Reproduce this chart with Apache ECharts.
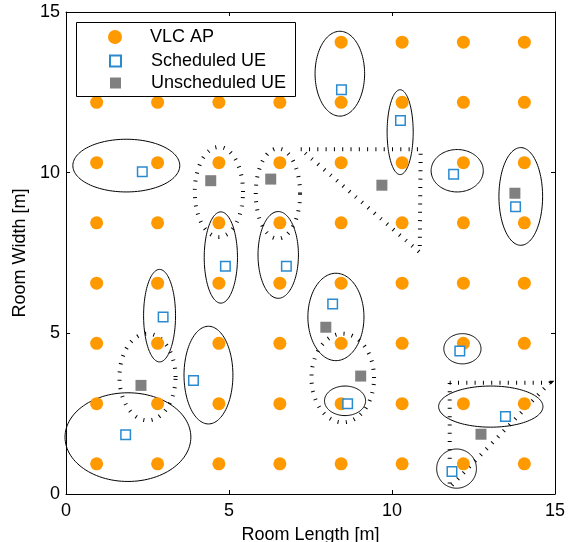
<!DOCTYPE html>
<html><head><meta charset="utf-8">
<script src="https://cdn.jsdelivr.net/npm/echarts@6/dist/echarts.min.js"></script>
<style>html,body{margin:0;padding:0;background:#fff}#c{width:569px;height:542px}</style>
</head><body><div id="c"></div>
<script>
// VLC access point grid positions (m)
const apX = [0.94, 2.81, 4.69, 6.56, 8.44, 10.31, 12.19, 14.06];
const apY = [0.94, 2.81, 4.69, 6.56, 8.44, 10.31, 12.19, 14.06];
// Scheduled UEs
const schedX = [8.45, 10.26, 2.34, 11.89, 13.79, 4.89, 6.76, 2.98, 8.18, 3.91, 12.08, 8.64, 13.48, 1.83, 11.84];
const schedY = [12.58, 11.62, 10.03, 9.95, 8.94, 7.09, 7.09, 5.51, 5.91, 3.53, 4.45, 2.81, 2.41, 1.84, 0.70];
// Unscheduled UEs
const unX = [4.44, 6.28, 9.69, 13.77, 7.97, 9.04, 2.30, 12.73];
const unY = [9.75, 9.80, 9.61, 9.36, 5.19, 3.67, 3.38, 1.86];
// Solid clusters: [cx, cy, rx, ry]
const solidEllipses = [
  [8.40, 13.08, 0.76, 1.32],
  [10.25, 11.26, 0.40, 1.32],
  [1.85, 10.22, 1.64, 0.82],
  [12.00, 10.06, 0.80, 0.66],
  [13.95, 9.26, 0.67, 1.52],
  [4.75, 7.36, 0.51, 1.42],
  [6.51, 7.44, 0.62, 1.35],
  [2.87, 5.55, 0.49, 1.44],
  [4.37, 3.70, 0.75, 1.52],
  [8.28, 5.51, 0.86, 1.36],
  [12.16, 4.52, 0.57, 0.47],
  [8.56, 2.90, 0.63, 0.46],
  [13.03, 2.72, 1.60, 0.64],
  [11.98, 0.79, 0.61, 0.61],
  [1.90, 1.77, 1.93, 1.38]
];
// Dotted clusters: [cx, cy, rx, ry]
const dottedEllipses = [
  [4.69, 9.40, 0.74, 1.40],
  [6.50, 9.35, 0.68, 1.40],
  [2.50, 3.64, 0.86, 1.35],
  [8.49, 3.61, 0.96, 1.38]
];
// Dotted triangles: [x1, y1, x2, y2, x3, y3]
const dottedTriangles = [
  [7.20, 10.73, 10.88, 10.73, 10.85, 7.52],
  [11.77, 3.46, 14.84, 3.46, 11.77, 0.20]
];
const xTicks = [0, 5, 10, 15];
const yTicks = [0, 5, 10, 15];

const FONT = "'Liberation Sans', Arial, sans-serif";
const apData = [];
apX.forEach(x => apY.forEach(y => apData.push([x, y])));
const schedData = schedX.map((x, i) => [x, schedY[i]]);
const unData = unX.map((x, i) => [x, unY[i]]);

const dotStyle = {fill: 'none', stroke: '#000', lineWidth: 4, lineDash: [1, 7.3], lineCap: 'butt'};
const solidStyle = {fill: 'none', stroke: '#000', lineWidth: 1};

function ellipseRender(style) {
  return function (params, api) {
    const cx = api.value(0), cy = api.value(1), rx = api.value(2), ry = api.value(3);
    const pts = [];
    const N = 120;
    for (let k = 0; k <= N; k++) {
      const t = k / N * 2 * Math.PI;
      pts.push(api.coord([cx + rx * Math.cos(t), cy + ry * Math.sin(t)]));
    }
    return {type: 'polygon', shape: {points: pts}, style: Object.assign({}, style)};
  };
}
function triangleRender(params, api) {
  const pts = [];
  for (let k = 0; k < 3; k++) pts.push(api.coord([api.value(2 * k), api.value(2 * k + 1)]));
  return {type: 'polygon', shape: {points: pts}, style: Object.assign({}, dotStyle)};
}

const min = xTicks[0], max = xTicks[xTicks.length - 1], step = xTicks[1] - xTicks[0];
const axisCommon = {
  type: 'value', min: min, max: max, interval: step,
  axisLine: {show: true, onZero: false, lineStyle: {color: '#000', width: 1}},
  axisTick: {show: true, inside: true, length: 4, lineStyle: {color: '#000', width: 1}},
  splitLine: {show: false}
};
const labelStyle = {color: '#000', fontSize: 18, fontFamily: FONT};
const legendText = {color: '#000', fontSize: 18, lineHeight: 18, fontFamily: FONT};

const chart = echarts.init(document.getElementById('c'), null, {renderer: 'canvas'});
chart.setOption({
  animation: false,
  backgroundColor: '#fff',
  grid: {left: 66, right: 14, top: 12, bottom: 48, containLabel: false, outerBoundsMode: 'none'},
  xAxis: [
    Object.assign({}, axisCommon, {position: 'bottom',
      axisLabel: Object.assign({margin: 8}, labelStyle),
      name: 'Room Length [m]', nameLocation: 'middle', nameGap: 32,
      nameTextStyle: {color: '#000', fontSize: 18, fontFamily: FONT}}),
    Object.assign({}, axisCommon, {position: 'top', axisLabel: {show: false}})
  ],
  yAxis: [
    Object.assign({}, axisCommon, {position: 'left',
      axisLabel: Object.assign({margin: 6}, labelStyle),
      name: 'Room Width [m]', nameLocation: 'middle', nameGap: 31,
      nameTextStyle: {color: '#000', fontSize: 18, fontFamily: FONT}}),
    Object.assign({}, axisCommon, {position: 'right', axisLabel: {show: false}})
  ],
  graphic: [{
    type: 'rect', z: 10,
    shape: {x: 76.5, y: 22.5, width: 219, height: 74},
    style: {fill: '#fff', stroke: '#000', lineWidth: 1}
  }],
  legend: [
    {data: ['VLC AP'], orient: 'vertical', left: 108, top: 28, padding: 0,
     itemWidth: 14, itemHeight: 14, z: 20, selectedMode: false,
     textStyle: Object.assign({padding: [0, 0, 0, 23]}, legendText)},
    {data: ['Scheduled UE', 'Unscheduled UE'], orient: 'vertical', left: 109, top: 52, padding: 0,
     itemWidth: 11, itemHeight: 11, itemGap: 4, z: 20, selectedMode: false,
     textStyle: Object.assign({padding: [0, 0, 0, 25]}, legendText)}
  ],
  series: [
    {type: 'custom', name: 'solid', renderItem: ellipseRender(solidStyle), data: solidEllipses, z: 1, silent: true},
    {type: 'custom', name: 'dotted', renderItem: ellipseRender(dotStyle), data: dottedEllipses, z: 1, silent: true},
    {type: 'custom', name: 'tri', renderItem: triangleRender, data: dottedTriangles, z: 1, silent: true},
    {type: 'scatter', name: 'VLC AP', data: apData, symbol: 'circle', symbolSize: 13,
     itemStyle: {color: '#FF9900', opacity: 1}, z: 2},
    {type: 'scatter', name: 'Scheduled UE', data: schedData, symbol: 'rect', symbolSize: 9.5,
     itemStyle: {color: '#ffffff', borderColor: '#2a8ad0', borderWidth: 1.5, opacity: 1}, z: 3},
    {type: 'scatter', name: 'Unscheduled UE', data: unData, symbol: 'rect', symbolSize: 11,
     itemStyle: {color: '#808080', opacity: 1}, z: 3}
  ]
});
</script>
</body></html>
